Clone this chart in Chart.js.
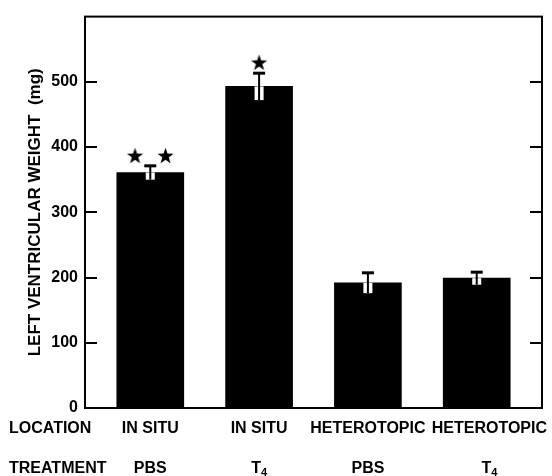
<!DOCTYPE html>
<html>
<head>
<meta charset="utf-8">
<script src="https://cdn.jsdelivr.net/npm/chart.js@4/dist/chart.umd.min.js"></script>
<style>
    html, body { margin: 0; padding: 0; background: #fff; }
</style>
</head>
<body>
<canvas id="lvw-chart" width="552" height="476"></canvas>
<script>
const locations = ['IN SITU', 'IN SITU', 'HETEROTOPIC', 'HETEROTOPIC'];
const treatments = ['PBS', 'T4', 'PBS', 'T4'];
const meanWeight = [361, 493, 192, 199];
const semWeight = [11, 21, 16, 10];
// significance stars (x in bar units, y in mg)
const starX = [-0.14, 0.14, 1];
const starY = [387, 387, 530];
const yTicks = [0, 100, 200, 300, 400, 500];

const FONT = '"Liberation Sans", Arial, Helvetica, sans-serif';

// filled five point star used as point style
function makeStar(size) {
    const c = document.createElement('canvas');
    c.width = size;
    c.height = size;
    const g = c.getContext('2d');
    const cx = size / 2, cy = size / 2 + 0.8, R = size / 2, r = R * 0.4;
    g.beginPath();
    for (let i = 0; i < 10; i++) {
        const a = -Math.PI / 2 + i * Math.PI / 5;
        const rr = i % 2 === 0 ? R : r;
        g.lineTo(cx + rr * Math.cos(a), cy + rr * Math.sin(a));
    }
    g.closePath();
    g.fillStyle = '#000';
    g.fill();
    return c;
}

const frame = {
    id: 'frame',
    afterDatasetsDraw(chart) {
        const {ctx, chartArea: a, scales: {x, y}} = chart;
        ctx.save();
        // error bars
        meanWeight.forEach((m, i) => {
            const px = x.getPixelForValue(i);
            const yTop = y.getPixelForValue(m + semWeight[i]);
            const yMid = y.getPixelForValue(m);
            const yLow = y.getPixelForValue(m - semWeight[i]);
            ctx.fillStyle = '#fff';
            ctx.fillRect(px - 4.5, yMid, 9, yLow - yMid);
            ctx.fillStyle = '#000';
            ctx.fillRect(px - 1, yTop, 2, yLow - yTop);
            ctx.fillRect(px - 6, yTop - 1, 12, 3);
        });
        // box
        ctx.strokeStyle = '#000';
        ctx.lineWidth = 2;
        ctx.strokeRect(a.left, a.top, a.right - a.left, a.bottom - a.top);
        // inside ticks on both sides
        yTicks.forEach(v => {
            if (v === 0) return;
            const py = Math.round(y.getPixelForValue(v));
            ctx.beginPath();
            ctx.moveTo(a.left, py);
            ctx.lineTo(a.left + 12, py);
            ctx.moveTo(a.right, py);
            ctx.lineTo(a.right - 12, py);
            ctx.stroke();
        });
        // category rows
        ctx.fillStyle = '#000';
        ctx.textBaseline = 'middle';
        ctx.font = 'bold 16px ' + FONT;
        ctx.textAlign = 'left';
        ctx.fillText('LOCATION', 9, 429);
        ctx.fillText('TREATMENT', 9, 469);

        // last label runs to the right edge, others centred and pushed left on collision
        const centres = [];
        let limit = chart.width - 5;
        for (let i = locations.length - 1; i >= 0; i--) {
            const w = ctx.measureText(locations[i]).width;
            let px = x.getPixelForValue(i);
            if (i === locations.length - 1 || px + w / 2 > limit) px = limit - w / 2;
            centres[i] = px;
            limit = px - w / 2 - 6;
        }
        ctx.textAlign = 'center';
        locations.forEach((loc, i) => {
            const px = centres[i];
            ctx.font = 'bold 16px ' + FONT;
            ctx.fillText(loc, px, 429);
            const t = treatments[i];
            if (t === 'T4') {
                const tw = ctx.measureText('T').width;
                ctx.font = 'bold 11px ' + FONT;
                const sw = ctx.measureText('4').width;
                const left = px - (tw + sw) / 2;
                ctx.textAlign = 'left';
                ctx.font = 'bold 16px ' + FONT;
                ctx.fillText('T', left, 469);
                ctx.font = 'bold 11px ' + FONT;
                ctx.fillText('4', left + tw, 473);
                ctx.textAlign = 'center';
            } else {
                ctx.fillText(t, px, 469);
            }
        });
        ctx.restore();
    }
};

new Chart(document.getElementById('lvw-chart'), {
    type: 'bar',
    data: {
        datasets: [{
            type: 'bar',
            data: meanWeight.map((v, i) => ({x: i, y: v})),
            backgroundColor: '#000',
            borderWidth: 0,
            barThickness: 67
        }, {
            type: 'scatter',
            data: starX.map((v, i) => ({x: v, y: starY[i]})),
            pointStyle: makeStar(17),
            pointRadius: 8
        }]
    },
    options: {
        responsive: false,
        animation: false,
        devicePixelRatio: 1,
        layout: {padding: {left: 0, top: 11, right: 10, bottom: 68}},
        plugins: {
            legend: {display: false},
            tooltip: {enabled: false}
        },
        scales: {
            x: {
                type: 'linear',
                min: -0.6,
                max: 3.6,
                offset: false,
                display: false
            },
            y: {
                min: 0,
                max: 600,
                afterFit: s => { s.width = 85; },
                grid: {display: false, drawTicks: false},
                border: {display: false},
                ticks: {
                    stepSize: 100,
                    padding: 7,
                    color: '#000',
                    font: {family: FONT, size: 16, weight: 'bold'},
                    callback: v => yTicks.includes(v) ? v : ''
                },
                title: {
                    display: true,
                    text: 'LEFT VENTRICULAR WEIGHT  (mg)',
                    color: '#000',
                    padding: {top: 25, bottom: 0},
                    font: {family: FONT, size: 17, weight: 'bold'}
                }
            }
        }
    },
    plugins: [frame]
});
</script>
</body>
</html>
